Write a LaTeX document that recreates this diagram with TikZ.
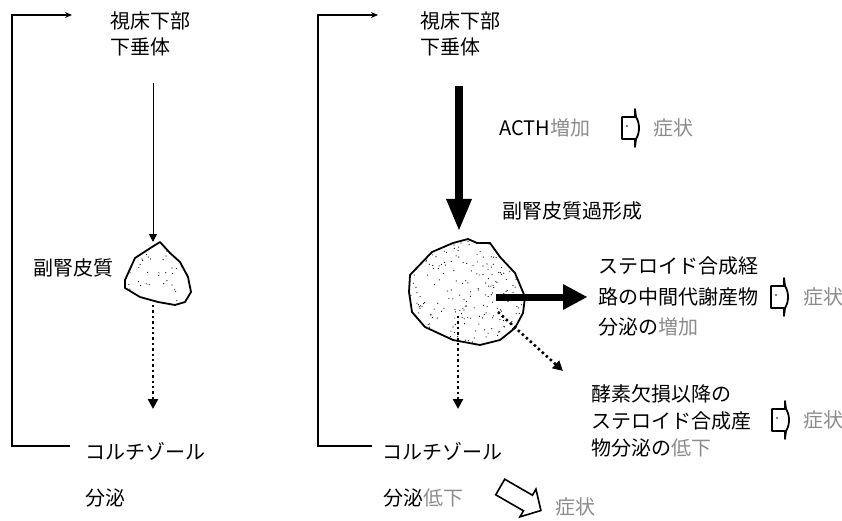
\documentclass[tikz,border=0pt]{standalone}
\usepackage{fontspec}
\setmainfont{Noto Sans CJK JP}
\usetikzlibrary{arrows.meta}

\tikzset{
  lbl/.style={anchor=west, inner sep=0pt, font=\fontsize{20}{24}\selectfont},
  faint/.style={text=black!45},
  loopline/.style={line width=1.5pt, -{Stealth[length=7pt,width=6pt]}},
  thinarrow/.style={line width=1pt, -{Triangle[length=8pt,width=8pt]}},
  dotarrow/.style={line width=2.6pt, dash pattern=on 2.4pt off 3pt, -{Triangle[length=10pt,width=10pt]}},
  blob/.style={draw, line width=1.8pt, line join=round, fill=white},
  resultsym/.pic={
    \draw[line width=1.8pt, line join=round]
      (0,-11) -- (13,-11) -- (13,-19) -- (14,-11)
      .. controls (18,-5) and (18,5) .. (14,11)
      -- (13,19) -- (13,11) -- (0,11) -- cycle;
    \fill (5,-2) circle (0.9pt);
  }
}

\begin{document}
\begin{tikzpicture}[x=1pt,y=-1pt]
\useasboundingbox (0,0) rectangle (842,521);

% ---------- normal state (left) ----------
\coordinate (lTopEnd) at (72,15);
\coordinate (lBotEnd) at (70,446);
\draw[loopline] (lBotEnd) -- (12,446) -- (12,15) -- (lTopEnd);

\node[lbl] (lHyp) at (110,21) {視床下部};
\node[lbl] (lPit) at (110,47) {下垂体};

\path[blob] (125,280) -- (135,258) -- (152,247) -- (160,242) -- (170,253)
  -- (180,262) -- (188,277) -- (191,292) -- (185,302) -- (175,305)
  -- (158,302) -- (140,297) -- (125,288) -- cycle;
\coordinate (lAdrTop) at (153,242);
\coordinate (lAdrBot) at (153,305);
\begin{scope}
  \clip (125,280) -- (135,258) -- (152,247) -- (160,242) -- (170,253)
    -- (180,262) -- (188,277) -- (191,292) -- (185,302) -- (175,305)
    -- (158,302) -- (140,297) -- (125,288) -- cycle;
  \pgfmathsetseed{11}
  \foreach \i in {1,...,45} {
    \fill ({128+60*rnd},{246+56*rnd}) circle (0.6pt);
  }
\end{scope}
\node[lbl, anchor=east] (lAdr) at (114,268) {副腎皮質};

\coordinate (lPitBot) at (153,83);
\draw[thinarrow] (lPitBot) -- (lAdrTop);
\coordinate (lCorTop) at (153,409);
\draw[dotarrow] (lAdrBot) -- (lCorTop);

\node[lbl] (lCor) at (85,451) {コルチゾール};
\node[lbl] (lSec) at (85,498) {分泌};

% ---------- enzyme deficiency (right) ----------
\coordinate (rTopEnd) at (378,15);
\coordinate (rBotEnd) at (372,446);
\draw[loopline] (rBotEnd) -- (318,446) -- (318,15) -- (rTopEnd);

\node[lbl] (rHyp) at (420,21) {視床下部};
\node[lbl] (rPit) at (420,47) {下垂体};

% strong ACTH drive
\coordinate (rPitBot) at (459,86);
\coordinate (rDrive) at (459,201);
\draw[line width=8pt] (rPitBot) -- (rDrive);
\fill (446,199) -- (472,199) -- (459,230) -- cycle;

\node[lbl] (acth) at (499,128) {ACTH\textcolor{black!45}{増加}};
\pic at (622,128) {resultsym};
\node[lbl, faint] (s1) at (653,128) {症状};

\node[lbl] (hyper) at (502,211) {副腎皮質過形成};

% hyperplastic adrenal
\path[blob] (410,275) -- (432,252) -- (453,243) -- (468,239) -- (477,243)
  -- (490,243) -- (500,257) -- (515,273) -- (525,297) -- (523,313)
  -- (515,328) -- (500,340) -- (480,345) -- (453,340) -- (425,327)
  -- (412,312) -- (409,292) -- cycle;
\begin{scope}
  \clip (410,275) -- (432,252) -- (453,243) -- (468,239) -- (477,243)
    -- (490,243) -- (500,257) -- (515,273) -- (525,297) -- (523,313)
    -- (515,328) -- (500,340) -- (480,345) -- (453,340) -- (425,327)
    -- (412,312) -- (409,292) -- cycle;
  \pgfmathsetseed{5}
  \foreach \i in {1,...,260} {
    \fill ({410+115*rnd},{240+105*rnd}) circle (0.6pt);
  }
\end{scope}

% intermediates secreted in excess
\coordinate (rMid) at (496,297);
\coordinate (rMidEnd) at (566,297);
\draw[line width=7pt] (rMid) -- (rMidEnd);
\fill (563,284) -- (587,297) -- (563,310) -- cycle;

\node[lbl] (m1) at (598,266) {ステロイド合成経};
\node[lbl] (m2) at (598,297) {路の中間代謝産物};
\node[lbl] (m3) at (598,327) {分泌の\textcolor{black!45}{増加}};
\pic at (771,297) {resultsym};
\node[lbl, faint] (s2) at (803,297) {症状};

% products past the block
\coordinate (rDiagStart) at (498,312);
\coordinate (rDiagEnd) at (563,371);
\draw[dotarrow] (rDiagStart) -- (rDiagEnd);

\node[lbl] (d1) at (591,394) {酵素欠損以降の};
\node[lbl] (d2) at (591,421) {ステロイド合成産};
\node[lbl] (d3) at (591,448) {物分泌の\textcolor{black!45}{低下}};
\pic at (772,420) {resultsym};
\node[lbl, faint] (s3) at (803,420) {症状};

% cortisol output
\coordinate (rAdrBot) at (458,316);
\coordinate (rCorTop) at (458,409);
\draw[dotarrow] (rAdrBot) -- (rCorTop);

\node[lbl] (rCor) at (382,451) {コルチゾール};
\node[lbl] (rSec) at (383,498) {分泌\textcolor{black!45}{低下}};

\begin{scope}[shift={(521,499)}, rotate=-30]
  \draw[line width=1.6pt, line join=miter]
    (-24,-9) -- (8,-9) -- (8,-16) -- (23,0) -- (8,16) -- (8,9) -- (-24,9) -- cycle;
\end{scope}
\node[lbl, faint] (s4) at (555,507) {症状};

\end{tikzpicture}
\end{document}
